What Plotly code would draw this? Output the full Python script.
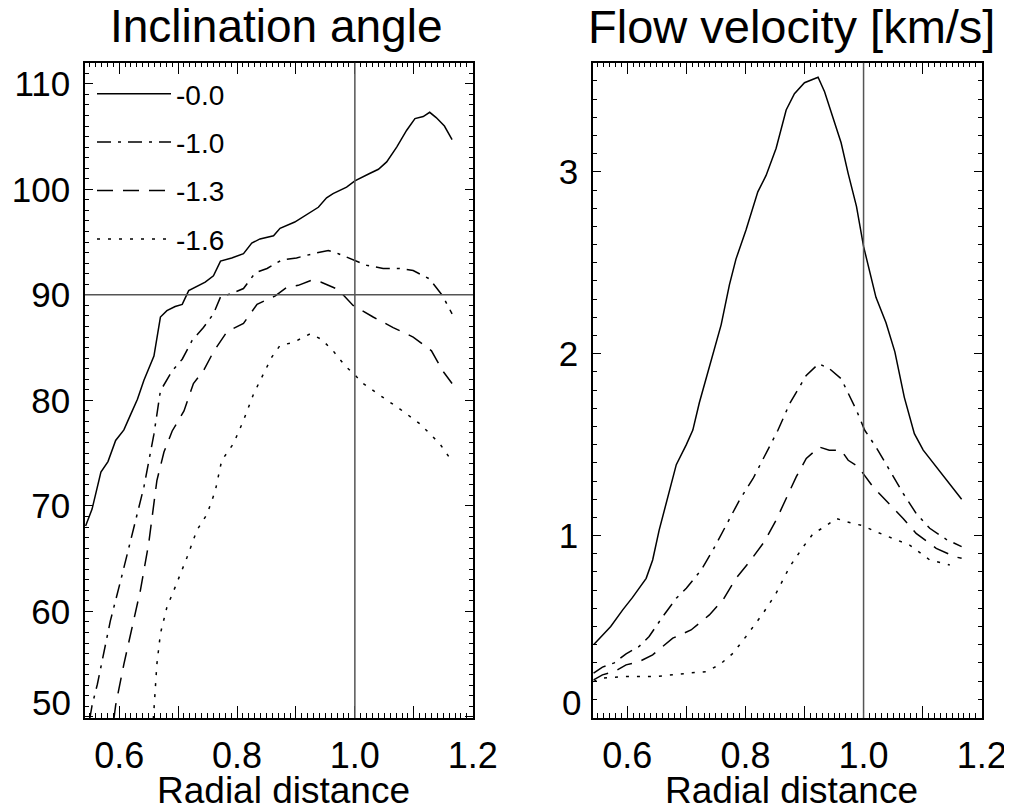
import plotly.graph_objects as go
from plotly.subplots import make_subplots

# ---------------- data ----------------
series_names = ["-0.0", "-1.0", "-1.3", "-1.6"]

# Inclination angle (left panel)
incl_x_00 = [0.543, 0.554, 0.569, 0.581, 0.594, 0.608, 0.619, 0.631, 0.642, 0.659, 0.670, 0.681, 0.695, 0.707,
             0.718, 0.732, 0.746, 0.760, 0.772, 0.791, 0.811, 0.825, 0.839, 0.862, 0.873, 0.898, 0.915, 0.938,
             0.952, 0.963, 0.986, 1.000, 1.025, 1.040, 1.054, 1.071, 1.088, 1.102, 1.116, 1.127, 1.138, 1.152, 1.165]
incl_y_00 = [68.1, 69.7, 73.2, 74.2, 76.2, 77.2, 78.6, 80.1, 81.9, 84.2, 87.9, 88.5, 88.9, 89.1,
             90.4, 90.8, 91.2, 91.8, 93.2, 93.5, 93.9, 94.9, 95.3, 95.6, 96.3, 96.9, 97.5, 98.3,
             99.2, 99.6, 100.2, 100.8, 101.5, 101.9, 102.6, 104.0, 105.6, 106.7, 106.9, 107.3, 106.8, 106.0, 104.7]

incl_x_10 = [0.550, 0.554, 0.563, 0.585, 0.602, 0.625, 0.642, 0.659, 0.670, 0.690, 0.707, 0.724, 0.743, 0.760,
             0.772, 0.794, 0.811, 0.831, 0.851, 0.876, 0.901, 0.929, 0.955, 0.972, 1.000, 1.020, 1.048, 1.076,
             1.099, 1.127, 1.149, 1.165]
incl_y_10 = [49.8, 51.1, 53.1, 59.1, 62.8, 68.0, 71.8, 76.8, 80.9, 82.8, 83.9, 85.7, 86.9, 88.2,
             89.8, 90.2, 90.6, 92.1, 92.5, 93.3, 93.5, 93.9, 94.2, 93.9, 93.3, 92.8, 92.5, 92.5,
             92.3, 91.5, 89.9, 88.2]

incl_x_13 = [0.591, 0.594, 0.608, 0.622, 0.636, 0.650, 0.664, 0.676, 0.690, 0.710, 0.726, 0.743, 0.760, 0.783,
             0.811, 0.834, 0.865, 0.884, 0.904, 0.927, 0.943, 0.972, 0.997, 1.031, 1.065, 1.099, 1.130, 1.149, 1.165]
incl_y_13 = [49.8, 51.1, 55.0, 58.5, 62.0, 66.4, 72.4, 75.1, 77.1, 79.0, 81.6, 82.8, 84.6, 86.5,
             87.3, 89.1, 89.9, 90.7, 90.9, 91.4, 91.2, 90.5, 89.0, 87.9, 86.9, 86.0, 84.7, 82.8, 81.6]

incl_x_16 = [0.658, 0.664, 0.670, 0.681, 0.695, 0.715, 0.732, 0.749, 0.763, 0.774, 0.794, 0.811, 0.828, 0.845,
             0.859, 0.873, 0.896, 0.924, 0.943, 0.963, 0.983, 1.000, 1.014, 1.042, 1.076, 1.110, 1.144, 1.164]
incl_y_16 = [49.8, 55.0, 57.9, 60.4, 62.3, 65.1, 67.7, 69.2, 71.4, 74.3, 75.9, 78.1, 80.6, 82.5,
             84.1, 85.2, 85.5, 86.3, 85.8, 84.7, 83.3, 82.4, 81.6, 80.5, 79.2, 77.8, 75.9, 74.3]

# Flow velocity [km/s] (right panel)
vel_x_00 = [0.543, 0.558, 0.572, 0.592, 0.609, 0.632, 0.643, 0.654, 0.666, 0.683, 0.700, 0.711, 0.722, 0.732,
            0.739, 0.759, 0.773, 0.784, 0.801, 0.821, 0.835, 0.852, 0.869, 0.883, 0.900, 0.923, 0.934, 0.948,
            0.962, 0.974, 0.988, 1.000, 1.021, 1.038, 1.053, 1.069, 1.086, 1.101, 1.134, 1.166]
vel_y_00 = [0.40, 0.45, 0.50, 0.59, 0.66, 0.765, 0.866, 1.03, 1.18, 1.39, 1.50, 1.58, 1.73, 1.85,
            1.93, 2.16, 2.38, 2.52, 2.68, 2.89, 2.98, 3.13, 3.34, 3.43, 3.49, 3.52, 3.44, 3.30,
            3.16, 2.99, 2.81, 2.59, 2.31, 2.17, 2.01, 1.76, 1.56, 1.47, 1.33, 1.20]

vel_x_10 = [0.543, 0.558, 0.578, 0.598, 0.620, 0.637, 0.660, 0.683, 0.700, 0.725, 0.745, 0.767, 0.790, 0.813,
            0.835, 0.855, 0.875, 0.894, 0.903, 0.924, 0.942, 0.962, 0.976, 0.988, 1.002, 1.021, 1.044, 1.067,
            1.089, 1.112, 1.140, 1.166]
vel_y_10 = [0.244, 0.277, 0.30, 0.35, 0.39, 0.445, 0.554, 0.655, 0.71, 0.81, 0.92, 1.058, 1.195, 1.314,
            1.451, 1.579, 1.726, 1.835, 1.881, 1.945, 1.918, 1.863, 1.77, 1.689, 1.579, 1.487, 1.36, 1.232,
            1.122, 1.04, 0.979, 0.939]

vel_x_13 = [0.543, 0.558, 0.578, 0.598, 0.620, 0.643, 0.677, 0.708, 0.739, 0.762, 0.784, 0.807, 0.832, 0.852,
            0.869, 0.886, 0.903, 0.925, 0.942, 0.962, 0.974, 0.991, 1.016, 1.038, 1.067, 1.089, 1.123, 1.154, 1.166]
vel_y_13 = [0.207, 0.234, 0.252, 0.289, 0.307, 0.344, 0.436, 0.481, 0.564, 0.646, 0.765, 0.856, 0.966, 1.085,
            1.204, 1.323, 1.424, 1.487, 1.469, 1.469, 1.414, 1.378, 1.268, 1.195, 1.094, 1.012, 0.93, 0.884, 0.875]

vel_x_16 = [0.543, 0.558, 0.598, 0.648, 0.705, 0.733, 0.756, 0.779, 0.801, 0.830, 0.852, 0.875, 0.898, 0.915,
            0.934, 0.954, 0.971, 0.999, 1.021, 1.050, 1.078, 1.112, 1.146]
vel_y_16 = [0.198, 0.216, 0.225, 0.225, 0.244, 0.252, 0.289, 0.353, 0.445, 0.573, 0.683, 0.829, 0.939, 1.012,
            1.048, 1.094, 1.076, 1.054, 1.021, 0.985, 0.948, 0.866, 0.838]

# reference lines
ref_x = 1.0
ref_incl = 90.0

# axis bottom tick values (their labels sit on top of the x axis, as in the original)
incl_bottom_tick = 50
vel_bottom_tick = 0

# text
titles = ["Inclination angle", "Flow velocity [km/s]"]
x_title = "Radial distance"

# ---------------- styling / layout ----------------
FONT = "Liberation Sans, Arial, Helvetica, sans-serif"
dashes = ["solid", "14px,7px,3px,7px", "16px,10px", "3px,8px"]

# the page body has an 8px margin; positions below are window pixels minus that offset
OFF = 8
W, H = 1012 - OFF, 810 - OFF


def px_x(p):
    return (p - OFF) / W


def px_y(p):
    return 1 - (p - OFF) / H


incl_x = [incl_x_00, incl_x_10, incl_x_13, incl_x_16]
incl_y = [incl_y_00, incl_y_10, incl_y_13, incl_y_16]
vel_x = [vel_x_00, vel_x_10, vel_x_13, vel_x_16]
vel_y = [vel_y_00, vel_y_10, vel_y_13, vel_y_16]

fig = make_subplots(rows=1, cols=2)

for i, name in enumerate(series_names):
    fig.add_trace(go.Scatter(x=incl_x[i], y=incl_y[i], mode="lines", name=name,
                             legendgroup=name,
                             line=dict(color="black", width=1.5, dash=dashes[i])), row=1, col=1)
for i, name in enumerate(series_names):
    fig.add_trace(go.Scatter(x=vel_x[i], y=vel_y[i], mode="lines", name=name,
                             legendgroup=name, showlegend=False,
                             line=dict(color="black", width=1.5, dash=dashes[i])), row=1, col=2)

dom_y = [px_y(718), px_y(62.7)]
dom_x1 = [px_x(85), px_x(473)]
dom_x2 = [px_x(593), px_x(982)]

TICKFONT = dict(family=FONT, size=35, color="black")

xaxis_common = dict(
    range=[0.542, 1.2005], tickmode="linear", tick0=0.6, dtick=0.1, tickformat=".1f",
    labelalias={"0.7": " ", "0.9": " ", "1.1": " "},
    ticks="inside", ticklen=12, tickwidth=1, tickcolor="black",
    minor=dict(dtick=0.01, ticks="inside", ticklen=5, tickwidth=1, tickcolor="black"),
    showline=True, linecolor="black", linewidth=1.5, mirror="allticks",
    showgrid=False, zeroline=False, automargin=False,
    tickfont=dict(family=FONT, size=36, color="black"),
    ticklabelstandoff=5, ticklabeloverflow="allow",
)

yaxis_common = dict(
    ticks="inside", ticklen=8, tickwidth=1, tickcolor="black",
    showline=True, linecolor="black", linewidth=1.5, mirror="allticks",
    showgrid=False, zeroline=False, automargin=False,
    tickfont=TICKFONT, ticklabelstandoff=6,
    ticklabeloverflow="allow",
)

fig.update_layout(
    width=W, height=H,
    margin=dict(l=0, r=0, t=0, b=0),
    paper_bgcolor="white", plot_bgcolor="white",
    font=dict(family=FONT, color="black"),
    showlegend=True,
    legend=dict(x=px_x(92), y=px_y(69), xanchor="left", yanchor="top",
                bgcolor="rgba(0,0,0,0)", borderwidth=0,
                font=dict(family=FONT, size=28, color="black"),
                itemwidth=74, tracegroupgap=9, itemclick=False),
    xaxis=dict(domain=dom_x1, **xaxis_common),
    xaxis2=dict(domain=dom_x2, **xaxis_common),
    yaxis=dict(domain=dom_y, range=[49.9, 112], tickmode="linear", tick0=50, dtick=10,
               labelalias={str(incl_bottom_tick): " "},
               minor=dict(dtick=1, ticks="inside", ticklen=4, tickwidth=1, tickcolor="black"),
               **yaxis_common),
    yaxis2=dict(domain=dom_y, range=[-0.003, 3.6], tickmode="linear", tick0=0, dtick=1,
                labelalias={str(vel_bottom_tick): " "},
                minor=dict(dtick=0.1, ticks="inside", ticklen=4, tickwidth=1, tickcolor="black"),
                **yaxis_common),
)

# bottom y tick labels, raised so they rest on the x axis (IDL style)
fig.add_annotation(text=str(incl_bottom_tick), xref="paper", yref="y", x=px_x(73), y=incl_bottom_tick,
                   xanchor="right", yanchor="bottom", yshift=-7, showarrow=False, font=TICKFONT)
fig.add_annotation(text=str(vel_bottom_tick), xref="paper", yref="y2", x=px_x(583), y=vel_bottom_tick,
                   xanchor="right", yanchor="bottom", yshift=-7, showarrow=False, font=TICKFONT)

# reference lines
fig.add_vline(x=ref_x, line=dict(color="#555555", width=1.5), row=1, col=1)
fig.add_vline(x=ref_x, line=dict(color="#555555", width=1.5), row=1, col=2)
fig.add_hline(y=ref_incl, line=dict(color="#555555", width=1.5), row=1, col=1)

# panel titles
fig.add_annotation(text=titles[0], xref="paper", yref="paper",
                   x=(dom_x1[0] + dom_x1[1]) / 2 - 3 / W, y=px_y(26), xanchor="center", yanchor="middle",
                   showarrow=False, font=dict(family=FONT, size=46, color="black"))
fig.add_annotation(text=titles[1], xref="paper", yref="paper",
                   x=(dom_x2[0] + dom_x2[1]) / 2 + 4 / W, y=px_y(26), xanchor="center", yanchor="middle",
                   showarrow=False, font=dict(family=FONT, size=47, color="black"))

# x-axis titles
for cx in (283, 791):
    fig.add_annotation(text=x_title, xref="paper", yref="paper",
                       x=px_x(cx), y=px_y(790), xanchor="center", yanchor="middle",
                       showarrow=False, font=dict(family=FONT, size=37, color="black"))

fig.write_html("out.html")
